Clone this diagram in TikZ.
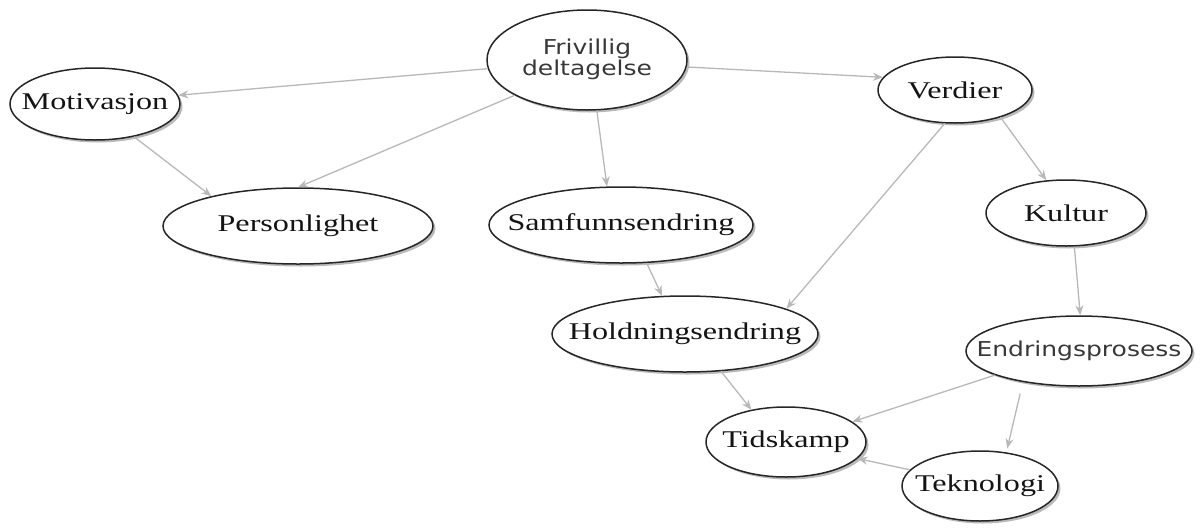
\documentclass[tikz,border=0pt]{standalone}
\usepackage{fontspec}
\setmainfont{Liberation Serif}
\newfontfamily\mapsans{DejaVu Sans}
\usepackage{graphicx}
\usetikzlibrary{shapes.geometric,shadows,arrows.meta}
% serif and sans labels, set wide; zero width so the ellipse keeps its given size
\newcommand\serifword[1]{\makebox[0pt]{\scalebox{1.34}[1]{\fontsize{24}{26}\selectfont\color{black!92}#1}}}
\newcommand\sansword[1]{\makebox[0pt]{\scalebox{1.22}[1]{\fontsize{20.5}{20}\mapsans\color{black!78}#1}}}
\definecolor{linkgray}{HTML}{B8B8B8}
\begin{document}
\begin{tikzpicture}[x=1pt,y=-1pt,
  topic/.style={ellipse, draw=black!85, line width=1.5pt, fill=white, inner sep=0pt,
    drop shadow={shadow xshift=2.5pt, shadow yshift=-2.5pt, opacity=.45, fill=black!60}},
  link/.style={draw=linkgray, line width=1.3pt, -{Stealth[length=10pt,width=8pt]}}]
\useasboundingbox (0,0) rectangle (1203,528);

\node[topic, minimum width=200pt, minimum height=100pt] (fd) at (587,60)
  {\sansword{\begin{tabular}{@{}c@{}}Frivillig\\deltagelse\end{tabular}}};
\node[topic, minimum width=170pt, minimum height=72pt] (mo) at (95,104) {\serifword{Motivasjon}};
\node[topic, minimum width=154pt, minimum height=66pt] (ve) at (955,90) {\serifword{Verdier}};
\node[topic, minimum width=270pt, minimum height=76pt] (pe) at (298,226) {\serifword{Personlighet}};
\node[topic, minimum width=264pt, minimum height=76pt] (sa) at (621,225) {\serifword{Samfunnsendring}};
\node[topic, minimum width=160pt, minimum height=66pt] (ku) at (1066,213) {\serifword{Kultur}};
\node[topic, minimum width=266pt, minimum height=76pt] (ho) at (685,334) {\serifword{Holdningsendring}};
\node[topic, minimum width=226pt, minimum height=70pt] (en) at (1079,351) {\sansword{Endringsprosess}};
\node[topic, minimum width=160pt, minimum height=70pt] (ti) at (786,442) {\serifword{Tidskamp}};
\node[topic, minimum width=156pt, minimum height=70pt] (te) at (980,486) {\serifword{Teknologi}};

\draw[link] (fd.185) -- (mo.6);
\draw[link] (fd.356) -- (ve.170);
\draw[link] (fd.206) -- (pe.90);
\draw[link] (fd.281) -- (sa.110);
\draw[link] (mo.-40) -- (pe.161);
\draw[link] (ve.-107) -- (ho.14);
\draw[link] (ve.-31) -- (ku.121);
\draw[link] (sa.-56) -- (ho.121);
\draw[link] (ku.-76) -- (en.88);
\draw[link] (ho.-46) -- (ti.137);
\draw[link] (en.196) -- (ti.17);
\draw[link, shorten <=12pt, shorten >=4pt] (en.209) -- (te.52);
\draw[link] (te.167) -- (ti.-13);
\end{tikzpicture}
\end{document}
